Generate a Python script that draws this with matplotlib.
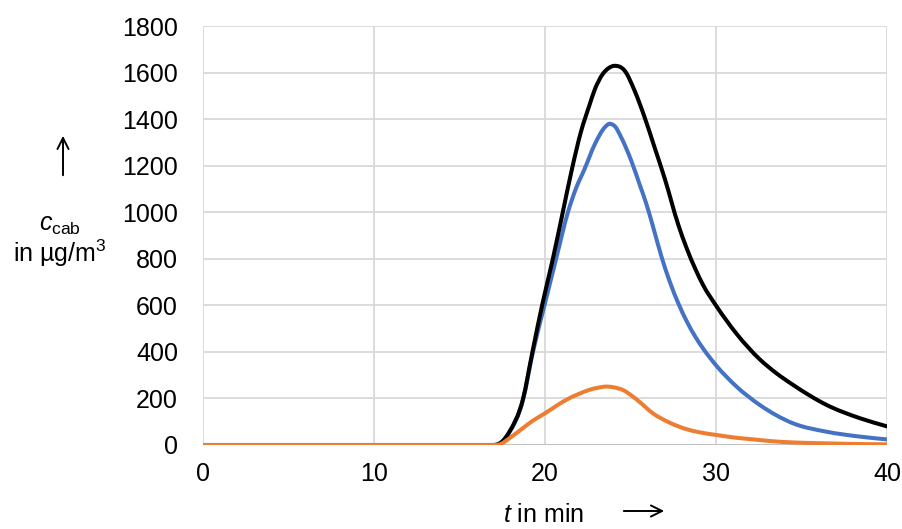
import matplotlib
matplotlib.use('Agg')
import matplotlib.pyplot as plt
from matplotlib.path import Path
from matplotlib.patches import PathPatch, FancyArrowPatch

plt.rcParams['font.family'] = ['Liberation Sans', 'DejaVu Sans']
plt.rcParams['mathtext.fontset'] = 'custom'
plt.rcParams['mathtext.rm'] = 'Liberation Sans'
plt.rcParams['mathtext.it'] = 'Liberation Sans:italic'

#
# Cabin concentration over time (t in min, c in ug/m3)
#

total_t = [0, 17.0, 17.5, 17.92, 18.7, 19.29, 19.83, 20.46, 21.04, 21.59, 22.1, 22.6, 22.9, 23.39,
           23.7, 24.07, 24.66, 25.24, 25.83, 26.41, 27.0, 27.8, 28.27, 28.8, 29.24, 30.03,
           31.2, 32.56, 33.5, 34.51, 36.47, 38.42, 40]
total_c = [0, 0, 15, 57, 194, 409, 600, 800, 1000, 1190, 1345, 1460, 1525, 1595,
           1618, 1629, 1608, 1522, 1407, 1278, 1145, 945, 848, 755, 688, 596,
           478, 368, 310, 258, 172, 115, 80]

blue_t = [0, 17.0, 17.5, 17.92, 18.7, 19.29, 19.97, 20.65, 21.34, 21.8, 22.31, 22.9, 23.5, 23.78,
          24.1, 24.46, 25.05, 25.53, 25.93, 26.31, 26.8, 27.29, 27.8, 28.27, 28.8, 29.24, 30.03,
          31.2, 32.56, 34.51, 36.47, 38.42, 40]
blue_c = [0, 0, 15, 55, 190, 398, 600, 800, 1000, 1100, 1185, 1290, 1365, 1380,
          1368, 1321, 1220, 1120, 1035, 940, 812, 703, 608, 534, 464, 415, 340,
          251, 172, 93, 57, 36, 24]

orange_t = [0, 17.0, 17.4, 17.92, 18.7, 19.3, 20.0, 20.6, 21.24, 22.0, 22.6, 23.1, 23.58, 24.0,
            24.56, 25.14, 25.53, 26.31, 27.29, 28.27, 29.0, 30.03, 31.2, 32.2, 33.15, 34.5,
            36.5, 38.5, 40]
orange_c = [0, 0, 4, 29, 72, 105, 136, 165, 194, 220, 237, 246, 251, 248,
            236, 208, 185, 136, 96, 68, 55, 43, 31, 24, 17, 11,
            7, 4, 3]

x_ticks = [0, 10, 20, 30, 40]
y_ticks = list(range(0, 1801, 200))


def smooth_path(xs, ys):
    # cubic segments through every point; flat at turning points so nothing overshoots
    n = len(xs)
    h = [xs[i + 1] - xs[i] for i in range(n - 1)]
    d = [(ys[i + 1] - ys[i]) / h[i] for i in range(n - 1)]
    m = [0.0] * n
    m[0], m[-1] = d[0], d[-1]
    for i in range(1, n - 1):
        if d[i - 1] * d[i] <= 0:
            m[i] = 0.0
        else:
            m[i] = (h[i] * d[i - 1] + h[i - 1] * d[i]) / (h[i - 1] + h[i])
            m[i] = min(m[i], 3 * d[i - 1], 3 * d[i]) if d[i] > 0 else max(m[i], 3 * d[i - 1], 3 * d[i])
    verts = [(xs[0], ys[0])]
    codes = [Path.MOVETO]
    for i in range(n - 1):
        verts += [(xs[i] + h[i] / 3, ys[i] + m[i] * h[i] / 3),
                  (xs[i + 1] - h[i] / 3, ys[i + 1] - m[i + 1] * h[i] / 3),
                  (xs[i + 1], ys[i + 1])]
        codes += [Path.CURVE4] * 3
    return Path(verts, codes)


W, H = 902, 529
fig = plt.figure(figsize=(W / 100, H / 100), dpi=100)
ax = fig.add_axes([203 / W, 1 - 445 / H, (887 - 203) / W, (445 - 26) / H])

series = [(blue_t, blue_c, '#4472C4'), (total_t, total_c, 'black'), (orange_t, orange_c, '#ED7D31')]
for z, (t, c, col) in enumerate(series):
    ax.add_patch(PathPatch(smooth_path(t, c), facecolor='none', edgecolor=col, lw=2.9,
                           capstyle='round', joinstyle='round', zorder=3 + z))

ax.set_xlim(0, 40)
ax.set_ylim(0, 1800)
ax.set_xticks(x_ticks)
ax.set_yticks(y_ticks)
ax.grid(True, color='#d9d9d9', lw=1.3)
ax.set_axisbelow(True)
for s in ax.spines.values():
    s.set_visible(False)
ax.axhline(0, color='#bfbfbf', lw=1.3, zorder=2)
ax.tick_params(axis='both', length=0, labelsize=18)
ax.tick_params(axis='y', pad=18)
ax.tick_params(axis='x', pad=12)


def px(x, y):
    return x / W, 1 - y / H


# axis labels with direction arrows
fig.text(*px(60, 225), r'$c_{\mathrm{cab}}$', fontsize=18, ha='center', va='center')
fig.text(*px(60, 253), r'in µg/m$^{3}$', fontsize=18, ha='center', va='center')
fig.add_artist(FancyArrowPatch(px(63, 178), px(63, 133), transform=fig.transFigure,
                               arrowstyle='->', mutation_scale=20, lw=1.4, color='black'))

fig.text(*px(544, 515), r'$t$ in min', fontsize=18, ha='center', va='center')
fig.add_artist(FancyArrowPatch(px(621, 511), px(667, 511), transform=fig.transFigure,
                               arrowstyle='->', mutation_scale=20, lw=1.4, color='black'))

fig.savefig('out.png', dpi=100)
